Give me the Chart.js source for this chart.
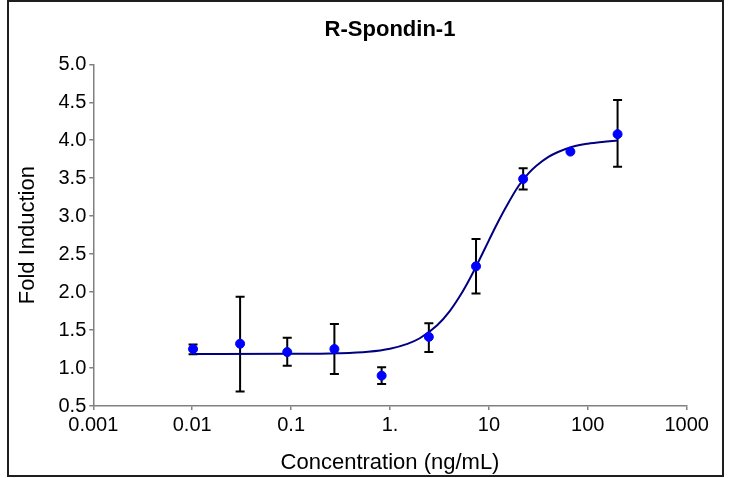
<!DOCTYPE html>
<html>
<head>
<meta charset="utf-8">
<script src="https://cdn.jsdelivr.net/npm/chart.js@4.4.0/dist/chart.umd.min.js"></script>
<style>
html,body{margin:0;padding:0;background:#fff;}
canvas{display:block;}
</style>
</head>
<body>
<canvas id="c" width="730" height="478"></canvas>
<script>
// ---- data ----
const chartTitle = "R-Spondin-1";
const xAxisTitle = "Concentration (ng/mL)";
const yAxisTitle = "Fold Induction";

const conc    = [0.0102, 0.0305, 0.0914, 0.274, 0.823, 2.47, 7.41, 22.2, 66.7, 200];
const fold    = [1.25, 1.32, 1.21, 1.25, 0.90, 1.41, 2.34, 3.49, 3.85, 4.08];
const errLow  = [1.18, 0.69, 1.03, 0.92, 0.79, 1.21, 1.98, 3.35, null, 3.65];
const errHigh = [1.31, 1.94, 1.40, 1.58, 1.01, 1.59, 2.70, 3.63, null, 4.53];

// fitted curve
const fitX = [0.0102, 0.1, 0.3, 0.6, 1, 1.5, 2, 3, 4, 5, 6, 7, 8, 10, 12, 15, 20, 25, 30, 40, 50, 70, 100, 140, 200];
const fitY = [1.185, 1.187, 1.195, 1.215, 1.255, 1.318, 1.392, 1.563, 1.747, 1.932, 2.108, 2.272, 2.423, 2.682, 2.890, 3.127, 3.40, 3.56, 3.66, 3.78, 3.845, 3.915, 3.955, 3.978, 3.995];

const xTickValues = [0.001, 0.01, 0.1, 1, 10, 100, 1000];
const xTickLabels = ["0.001", "0.01", "0.1", "1.", "10", "100", "1000"];
const yTickLabels = ["0.5","1.0","1.5","2.0","2.5","3.0","3.5","4.0","4.5","5.0"];

// ---- plugins ----
const errorBars = {
  id: 'errorBars',
  beforeDatasetsDraw(chart) {
    const ctx = chart.ctx, xs = chart.scales.x, ys = chart.scales.y;
    ctx.save();
    ctx.strokeStyle = '#000';
    ctx.lineWidth = 2;
    const cap = 4.5;
    conc.forEach((c, i) => {
      if (errLow[i] == null || errHigh[i] == null) return;
      const px = xs.getPixelForValue(c);
      const y1 = ys.getPixelForValue(errLow[i]);
      const y2 = ys.getPixelForValue(errHigh[i]);
      ctx.beginPath();
      ctx.moveTo(px, y1); ctx.lineTo(px, y2);
      ctx.moveTo(px - cap, y1); ctx.lineTo(px + cap, y1);
      ctx.moveTo(px - cap, y2); ctx.lineTo(px + cap, y2);
      ctx.stroke();
    });
    ctx.restore();
  }
};
const frame = {
  id: 'frame',
  afterDraw(chart) {
    const ctx = chart.ctx;
    ctx.save();
    ctx.strokeStyle = '#1e1e1e';
    ctx.lineWidth = 2;
    ctx.strokeRect(8, 1, 715, 475);
    ctx.restore();
  }
};

const ff = "'Liberation Sans', Arial, sans-serif";

new Chart(document.getElementById('c'), {
  type: 'scatter',
  data: {
    datasets: [
      {
        label: 'data',
        data: conc.map((c, i) => ({x: c, y: fold[i]})),
        backgroundColor: '#0000ff',
        borderColor: '#0000ff',
        pointRadius: 4.5,
        pointHoverRadius: 4.5,
        showLine: false,
        order: 0
      },
      {
        label: 'fit',
        data: fitX.map((x, i) => ({x: x, y: fitY[i]})),
        borderColor: '#000080',
        backgroundColor: '#000080',
        borderWidth: 2,
        pointRadius: 0,
        showLine: true,
        cubicInterpolationMode: 'monotone',
        order: 1
      }
    ]
  },
  options: {
    responsive: false,
    animation: false,
    devicePixelRatio: 1,
    layout: { padding: { left: 0, right: 43.3, top: 0, bottom: 0 } },
    plugins: {
      legend: { display: false },
      tooltip: { enabled: false },
      title: {
        display: true,
        text: chartTitle,
        fullSize: false,
        color: '#000',
        font: { family: ff, size: 22, weight: 'bold' },
        padding: { top: 17, bottom: 20.9 }
      }
    },
    scales: {
      x: {
        type: 'logarithmic',
        min: 0.001,
        max: 1000,
        afterBuildTicks: s => { s.ticks = xTickValues.map(v => ({value: v})); },
        afterFit: s => { s.height = 72; },
        ticks: {
          autoSkip: false,
          maxRotation: 0,
          color: '#000',
          font: { family: ff, size: 20 },
          padding: 3,
          callback: (v, i) => xTickLabels[i]
        },
        grid: { display: true, drawOnChartArea: false, drawTicks: true, tickLength: 4, color: '#808080', lineWidth: 1.5 },
        border: { display: true, color: '#808080', width: 1.5 },
        title: {
          display: true,
          text: xAxisTitle,
          color: '#000',
          font: { family: ff, size: 22 },
          padding: { top: 0, bottom: 2 }
        }
      },
      y: {
        min: 0.5,
        max: 5.0,
        afterBuildTicks: s => { s.ticks = yTickLabels.map(t => ({value: parseFloat(t)})); },
        afterFit: s => { s.width = 93.3; },
        ticks: {
          color: '#000',
          font: { family: ff, size: 20 },
          padding: 3,
          callback: (v, i) => yTickLabels[i]
        },
        grid: { display: true, drawOnChartArea: false, drawTicks: true, tickLength: 4, color: '#808080', lineWidth: 1.5 },
        border: { display: true, color: '#808080', width: 1.5 },
        title: {
          display: true,
          text: yAxisTitle,
          color: '#000',
          font: { family: ff, size: 22 },
          padding: { top: 14.8, bottom: 0 }
        }
      }
    }
  },
  plugins: [errorBars, frame]
});
</script>
</body>
</html>
